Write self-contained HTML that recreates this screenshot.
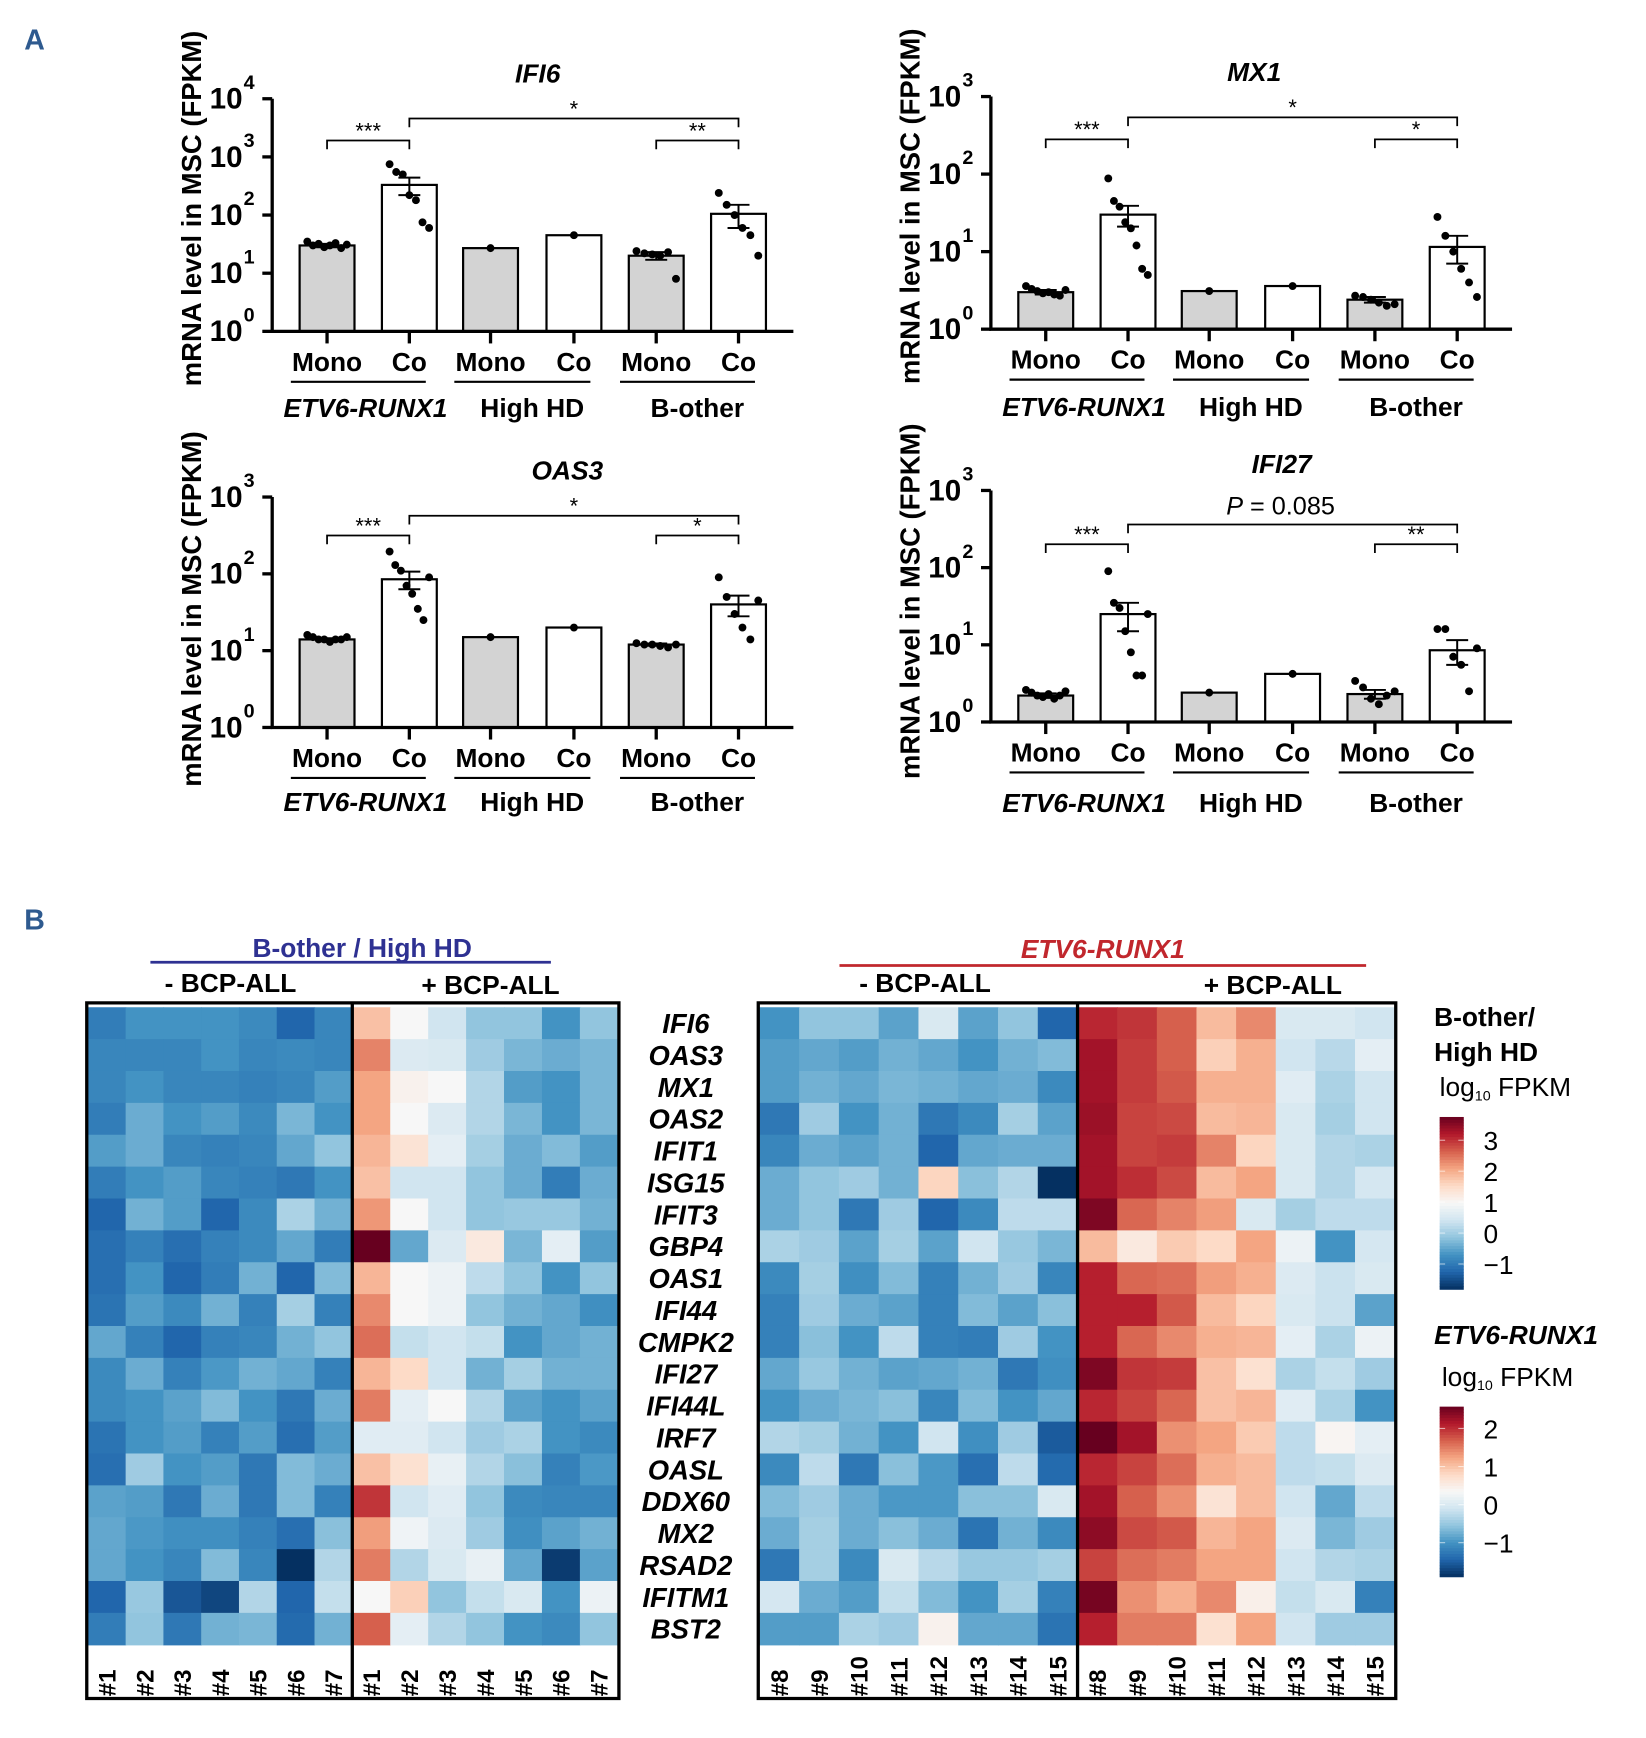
<!DOCTYPE html>
<html><head><meta charset="utf-8"><style>
html,body{margin:0;padding:0;background:#fff;}
svg{display:block;font-family:"Liberation Sans",Arial,sans-serif;}
</style></head><body>
<svg id="fig" width="1646" height="1738" viewBox="0 0 1500 1584" xmlns="http://www.w3.org/2000/svg">
<text x="22" y="45" font-size="26" font-weight="bold" fill="#2e5a8f">A</text>
<text x="22" y="847" font-size="26" font-weight="bold" fill="#2e5a8f">B</text>
<g id="charts"></g>
<g id="heat"></g>
</svg>
<script>
// ---------- Panel A data ----------
const barCats=["Mono","Co","Mono","Co","Mono","Co"];
const groupNames=["ETV6-RUNX1","High HD","B-other"];
const ifi6Means=[30,330,27,45,20,105];
const ifi6Sem=[2,110,0,0,3,45];
const ifi6Dots=[[35,30,32,28,30,33,27,31],[750,550,500,220,180,75,60],[27],[45],[24,22,21,20,23,8],[240,150,100,60,45,20]];
const mx1Means=[3,30,3.1,3.6,2.4,11.5];
const mx1Sem=[0.2,9,0,0,0.2,4.5];
const mx1Dots=[[3.6,3.3,3.1,2.9,3,2.8,2.7,3.2],[88,45,38,24,20,12,6,5],[3.1],[3.6],[2.7,2.6,2.4,2.2,2,2.1],[28,16,10,6,4,2.6]];
const oas3Means=[14,85,15,20,12,40];
const oas3Sem=[0.5,22,0,0,0.4,12];
const oas3Dots=[[16,15,14,14,13,14,14,15],[195,130,110,70,55,35,25,90],[15],[20],[12.5,12,12,11.5,11,12],[90,50,30,20,14,45]];
const ifi27Means=[2.2,25,2.4,4.2,2.3,8.5];
const ifi27Sem=[0.15,10,0,0,0.3,3];
const ifi27Dots=[[2.6,2.4,2.2,2.1,2.3,2.0,2.2,2.5],[90,35,30,15,8,4,4,25],[2.4],[4.2],[3.4,2.8,2.0,1.7,2.2,2.5],[16,16,7,5.5,2.5,9]];

const SVGNS="http://www.w3.org/2000/svg";
function mk(parent,tag,attrs){const e=document.createElementNS(SVGNS,tag);for(const k in attrs)e.setAttribute(k,attrs[k]);parent.appendChild(e);return e;}

function drawChart(L,title,means,sems,dots,brackets,extra){
  const g=mk(document.getElementById('charts'),'g',{});
  
  
  const yScale=v=>L.yBot-(Math.log10(v)/L.dec)*(L.yBot-L.yTop);
  const offs=[50,125,199,275,350,425];
  const xs=offs.map(o=>L.x0+o);
  means.forEach((m,i)=>{
    const y=yScale(m);
    const r=mk(g,'rect',{x:xs[i]-25,y:y,width:50,height:L.yBot-y,fill:i%2==0?'#d3d3d3':'#fff',stroke:'#000','stroke-width':2});
    
    
    if(sems[i]>0){
      const yh=yScale(m+sems[i]),yl=yScale(Math.max(m-sems[i],0.01));
      const e=mk(g,'path',{d:`M${xs[i]},${yh}V${yl}M${xs[i]-10},${yh}H${xs[i]+10}M${xs[i]-10},${yl}H${xs[i]+10}`,stroke:'#000','stroke-width':1.8,fill:'none'});
      
      
    }
  });
  dots.forEach((arr,i)=>{
    const n=arr.length;
    arr.forEach((v,j)=>{
      const dx=n>1?(j-(n-1)/2)*(36/(n-1)):0;
      const c=mk(g,'circle',{cx:xs[i]+dx,cy:yScale(v),r:3.6,fill:'#000'});
      
      
    });
  });
  const ax=mk(g,'path',{d:`M${L.x0},${L.yTop}V${L.yBot}H${L.x0+475}`,stroke:'#000','stroke-width':3,fill:'none'});
  
  
  for(let d=0;d<=L.dec;d++){
    const y=yScale(Math.pow(10,d));
    mk(g,'line',{x1:L.x0-9,x2:L.x0,y1:y,y2:y,stroke:'#000','stroke-width':3});
    const t=mk(g,'text',{x:L.x0-27,y:y+9,'font-size':27,'font-weight':'bold','text-anchor':'end'});
    
    
    t.textContent='10';
    const s=mk(g,'text',{x:L.x0-26,y:y-9,'font-size':18,'font-weight':'bold'});
    
    
    s.textContent=String(d);
  }
  xs.forEach((x,i)=>{
    mk(g,'line',{x1:x,x2:x,y1:L.yBot,y2:L.yBot+11,stroke:'#000','stroke-width':3});
    const t=mk(g,'text',{x:x,y:L.yBot+36,'font-size':24,'font-weight':'bold','text-anchor':'middle'});
    
    
    t.textContent=barCats[i];
  });
  for(let k=0;k<3;k++){
    const a=xs[2*k]-33,b=xs[2*k+1]+15;
    mk(g,'line',{x1:a,x2:b,y1:L.yBot+46,y2:L.yBot+46,stroke:'#000','stroke-width':2});
    const t=mk(g,'text',{x:k==0?xs[0]+35:(xs[2*k]+xs[2*k+1])/2,y:L.yBot+L.gy,'font-size':24,'font-weight':'bold','text-anchor':'middle','font-style':k==0?'italic':'normal'});
    
    
    t.textContent=groupNames[k];
  }
  const tt=mk(g,'text',{x:L.tx,y:L.ty,'font-size':24,'font-weight':'bold','font-style':'italic','text-anchor':'middle'});
  
  
  tt.textContent=title;
  const yl=mk(g,'text',{x:0,y:0,'font-size':25,'font-weight':'bold','text-anchor':'middle',transform:`translate(${L.x0-65},${L.ylc}) rotate(-90)`});
  
  
  yl.textContent='mRNA level in MSC (FPKM)';
  brackets.forEach(b=>{
    const x1=xs[b[0]],x2=xs[b[1]],y=b[2];
    const p=mk(g,'path',{d:`M${x1},${y+8}V${y}H${x2}V${y+8}`,stroke:'#000','stroke-width':1.6,fill:'none'});
    
    
    if(b[3]){
      const t=mk(g,'text',{x:(x1+x2)/2,y:y-2,'font-size':20,'text-anchor':'middle'});
      
      
      t.textContent=b[3];
    }
  });
  if(extra){
    const t=mk(g,'text',{x:extra.x,y:extra.y,'font-size':23,'text-anchor':'middle'});
    
    
    t.innerHTML='<tspan font-style="italic">P</tspan> = 0.085';
  }
}
drawChart({x0:248,yTop:90,yBot:302,dec:4,gy:78,tx:490,ty:75,ylc:190},'IFI6',ifi6Means,ifi6Sem,ifi6Dots,[[0,1,128,'***'],[1,5,108,'*'],[4,5,128,'**']]);
drawChart({x0:903,yTop:88,yBot:300,dec:3,gy:79,tx:1143,ty:74,ylc:188},'MX1',mx1Means,mx1Sem,mx1Dots,[[0,1,127,'***'],[1,5,107,'*'],[4,5,127,'*']]);
drawChart({x0:248,yTop:453,yBot:663,dec:3,gy:76,tx:517,ty:437,ylc:555},'OAS3',oas3Means,oas3Sem,oas3Dots,[[0,1,488,'***'],[1,5,470,'*'],[4,5,488,'*']]);
drawChart({x0:903,yTop:447,yBot:658,dec:3,gy:82,tx:1168,ty:431,ylc:548},'IFI27',ifi27Means,ifi27Sem,ifi27Dots,[[0,1,496,'***'],[1,5,478,''],[4,5,496,'**']],{x:1167,y:469});

// ---------- Panel B data ----------
const genes=["IFI6","OAS3","MX1","OAS2","IFIT1","ISG15","IFIT3","GBP4","OAS1","IFI44","CMPK2","IFI27","IFI44L","IRF7","OASL","DDX60","MX2","RSAD2","IFITM1","BST2"];
const leftCols=["#1","#2","#3","#4","#5","#6","#7","#1","#2","#3","#4","#5","#6","#7"];
const rightCols=["#8","#9","#10","#11","#12","#13","#14","#15","#8","#9","#10","#11","#12","#13","#14","#15"];
const leftVals=[
[-3.5,-3,-3,-3,-3.2,-4,-3.3,1.5,0,-1,-2,-2,-3,-2],
[-3.3,-3.3,-3.3,-3,-3.3,-3.2,-3.3,2.5,-0.7,-0.8,-1.8,-2.3,-2.5,-2.3],
[-3.3,-3,-3.3,-3.3,-3.4,-3.3,-2.8,2,0.2,0,-1.5,-2.8,-3,-2.3],
[-3.5,-2.5,-3,-2.8,-3.2,-2.3,-3,2,0,-0.7,-1.5,-2.3,-3,-2.3],
[-2.8,-2.5,-3.3,-3.4,-3.3,-2.6,-2,1.7,0.7,-0.5,-1.7,-2.5,-2.2,-2.8],
[-3.5,-3,-2.8,-3.3,-3.4,-3.6,-3,1.5,-1,-1,-2,-2.5,-3.5,-2.5],
[-4,-2.4,-2.8,-4,-3.2,-1.6,-2.4,2.2,0,-1,-2,-1.9,-1.9,-2.4],
[-3.8,-3.4,-3.8,-3.4,-3.2,-2.6,-3.5,5,-2.6,-0.7,0.5,-2.3,-0.5,-2.8],
[-3.8,-3,-4,-3.5,-2.4,-4,-2.2,1.7,0,-0.3,-1.3,-2,-3,-2],
[-3.7,-2.8,-3.2,-2.4,-3.4,-1.7,-3.4,2.4,0,-0.3,-2,-2.4,-2.6,-3.1],
[-2.6,-3.4,-4,-3.4,-3.3,-2.4,-2,2.8,-1.2,-1,-1.2,-3,-2.6,-2.4],
[-3.2,-2.5,-3.4,-2.9,-2.4,-2.6,-3.4,1.7,1,-1,-2.4,-1.7,-2.4,-2.4],
[-3.2,-3,-2.7,-2.2,-3,-3.6,-2.5,2.6,-0.5,0,-1.5,-2.7,-3,-2.7],
[-3.7,-3,-2.8,-3.4,-2.8,-3.8,-2.8,-0.6,-0.6,-1,-1.8,-1.6,-3,-3.2],
[-3.8,-1.8,-3,-2.8,-3.6,-2.2,-2.5,1.5,0.8,-0.4,-1.5,-2.1,-3.4,-2.9],
[-2.7,-2.8,-3.6,-2.5,-3.6,-2.2,-3.4,3.6,-1,-0.6,-2,-3.2,-3.3,-3.3],
[-2.6,-2.9,-3.1,-3.1,-3.4,-3.8,-2.1,2.1,-0.2,-0.7,-1.8,-3.1,-2.7,-2.4],
[-2.6,-3,-3.3,-2.2,-3.3,-5,-1.5,2.6,-1.5,-0.8,-0.4,-2.6,-4.8,-2.7],
[-4,-1.9,-4.3,-4.6,-1.5,-4,-1.2,0,1.2,-2,-1.2,-0.8,-3,-0.3],
[-3.5,-2,-3.6,-2.4,-2.3,-3.9,-2.4,3,-0.5,-1.5,-2,-3,-3.2,-2]];
const rightVals=[
[-3,-2,-2,-2.7,-0.8,-2.7,-2,-4,3.8,3.6,3,1.6,2.4,-0.8,-0.8,-1],
[-2.8,-2.6,-2.8,-2.4,-2.6,-3,-2.4,-2.2,4.2,3.5,3,1.2,1.8,-1,-1.4,-0.5],
[-2.8,-2.4,-2.6,-2.3,-2.4,-2.6,-2.5,-3.2,4.2,3.5,3.1,1.8,1.8,-0.6,-1.6,-1],
[-3.6,-1.8,-3,-2.4,-3.6,-3.2,-1.7,-2.7,4.3,3.4,3.3,1.6,1.7,-0.8,-1.7,-1],
[-3.3,-2.5,-2.7,-2.4,-4,-2.6,-2.5,-2.5,4.2,3.4,3.5,2.5,1.1,-0.8,-1.5,-1.6],
[-2.5,-2,-1.8,-2.4,1.1,-2.1,-1.5,-5,4.2,3.7,3.3,1.6,2,-0.8,-1.5,-0.9],
[-2.5,-2,-3.6,-1.8,-4,-3.2,-1.3,-1.3,4.7,2.9,2.5,2.1,-0.8,-1.7,-1.3,-1.3],
[-1.6,-1.8,-2.7,-1.7,-2.7,-1,-1.9,-2.3,1.6,0.5,1.3,1,2,-0.3,-3,-0.9],
[-3.2,-1.7,-3.1,-2.2,-3.4,-2.4,-1.8,-3.3,3.9,2.9,2.8,2.1,1.8,-0.7,-1.1,-0.8],
[-3.4,-1.8,-2.5,-2.7,-3.4,-2.2,-2.7,-2.1,3.9,3.9,3.1,1.6,1.1,-0.8,-1.1,-2.7],
[-3.4,-2.1,-3,-1.3,-3.4,-3.5,-1.8,-3,3.9,2.9,2.4,1.8,1.7,-0.5,-1.6,-0.3],
[-2.6,-1.9,-2.4,-2.7,-2.6,-2.4,-3.6,-3.1,4.7,3.6,3.5,1.5,0.8,-1.6,-1.2,-1.8],
[-3,-2.5,-2.3,-2.1,-3.3,-2.2,-3,-2.6,3.8,3.4,2.9,1.5,1.7,-0.6,-1.6,-3],
[-1.5,-1.7,-2.4,-3,-1,-3.1,-1.8,-4.2,5,4.2,2.3,2,1.3,-1.3,0.1,-0.5],
[-3.2,-1.3,-3.6,-2.1,-2.9,-3.8,-1.3,-3.9,3.8,3.4,2.8,1.8,1.6,-1.3,-1.2,-0.7],
[-2.2,-1.8,-2.5,-2.9,-2.9,-2.1,-2.1,-0.8,4.2,3,2.3,0.7,1.6,-1,-2.6,-1.3],
[-2.5,-1.7,-2.5,-2.1,-2.5,-3.7,-2.4,-3.2,4.5,3.3,3.1,1.7,2,-0.7,-2.3,-1.8],
[-3.6,-1.7,-3.2,-0.8,-1.4,-1.9,-1.9,-1.7,3.4,2.8,2.6,2,2,-1,-1.5,-1.6],
[-0.9,-2.5,-2.8,-1.2,-2.2,-3,-1.7,-3.4,4.8,2.3,1.8,2.4,0.3,-1.2,-0.8,-3.4],
[-2.8,-2.8,-1.6,-1.8,0.2,-2.6,-2.6,-3.7,3.9,2.6,2.6,0.8,2,-1,-1.8,-1.8]];
const cbLeftTicks=[3,2,1,0,-1];
const cbRightTicks=[2,1,0,-1];

const stops=["#053061","#2166ac","#4393c3","#92c5de","#d1e5f0","#f7f7f7","#fddbc7","#f4a582","#d6604d","#b2182b","#67001f"];
function hex(h){return [1,3,5].map(i=>parseInt(h.substr(i,2),16));}
function cmap(v){v=Math.max(-5,Math.min(5,v));const t=v+5,i=Math.min(9,Math.floor(t)),f=t-i;const a=hex(stops[i]),b=hex(stops[i+1]);return 'rgb('+a.map((c,k)=>Math.round(c+(b[k]-c)*f)).join(',')+')';}

const H=document.getElementById('heat');
const rowTop=918,rowH=29.05;
function drawHeat(vals,cols,x0,x1,xDiv,name){
  const g=mk(H,'g',{});
  
  
  const n=cols.length,half=n/2;
  const cw1=(xDiv-x0)/half,cw2=(x1-xDiv)/half;
  const cx=j=>j<half?x0+j*cw1:xDiv+(j-half)*cw2;
  const cw=j=>j<half?cw1:cw2;
  vals.forEach((row,i)=>row.forEach((v,j)=>{
    const r=mk(g,'rect',{x:cx(j),y:rowTop+i*rowH,width:cw(j)+0.6,height:rowH+0.6,fill:cmap(v)});
    
    
  }));
  cols.forEach((c,j)=>{
    const x=cx(j)+cw(j)/2+8;
    const t=mk(g,'text',{x:0,y:0,'font-size':22,'font-weight':'bold',transform:`translate(${x},1546) rotate(-90)`});
    
    
    t.textContent=c;
  });
  const b=mk(g,'path',{d:`M${x0-1},914H${x1+1}V1548H${x0-1}ZM${xDiv},914V1548`,stroke:'#000','stroke-width':3,fill:'none'});
  
  
}
drawHeat(leftVals,leftCols,80,563,321,'heatmap-b-other-high-hd');
drawHeat(rightVals,rightCols,692,1271,982,'heatmap-etv6-runx1');
genes.forEach((gname,i)=>{
  const t=mk(H,'text',{x:625,y:rowTop+i*rowH+rowH/2+9,'font-size':25,'font-weight':'bold','font-style':'italic','text-anchor':'middle'});
  
  
  t.textContent=gname;
});
function colorbar(y0,y1,vmin,vmax,ticks,posFn,name){
  const g=mk(H,'g',{});
  
  
  const N=60,h=(y1-y0)/N;
  for(let k=0;k<N;k++){const v=vmax-(k+0.5)/N*(vmax-vmin);mk(g,'rect',{x:1312,y:y0+k*h,width:22,height:h+0.5,fill:cmap(v)});}
  ticks.forEach(tk=>{
    const y=posFn(tk);
    mk(g,'line',{x1:1312,x2:1317,y1:y,y2:y,stroke:'#fff','stroke-opacity':0.6});
    mk(g,'line',{x1:1329,x2:1334,y1:y,y2:y,stroke:'#fff','stroke-opacity':0.6});
    const t=mk(g,'text',{x:1352,y:y+9,'font-size':24});
    
    
    t.textContent=tk<0?'\u2212'+(-tk):String(tk);
  });
}
colorbar(1018,1175,-5,5,cbLeftTicks,tk=>1152-(tk+1)*28.2,'colorbar-b-other');
colorbar(1282,1437,-5,5,cbRightTicks,tk=>1406-(tk+1)*34.7,'colorbar-etv6-runx1');
</script>
<div style="position:absolute;left:0;top:0;width:1646px;height:1738px;pointer-events:none">
<svg width="1646" height="1738" viewBox="0 0 1500 1584" style="font-family:'Liberation Sans',Arial,sans-serif">
<text x="330" y="872" font-size="24" font-weight="bold" fill="#2e3192" text-anchor="middle">B-other / High HD</text>
<line x1="137" x2="502" y1="877" y2="877" stroke="#2e3192" stroke-width="2.5"/>
<text x="1005" y="873" font-size="24" font-weight="bold" font-style="italic" fill="#c1272d" text-anchor="middle">ETV6-RUNX1</text>
<line x1="765" x2="1245" y1="880" y2="880" stroke="#c1272d" stroke-width="2.5"/>
<text x="210" y="904" font-size="24" font-weight="bold" text-anchor="middle">- BCP-ALL</text>
<text x="447" y="906" font-size="24" font-weight="bold" text-anchor="middle">+ BCP-ALL</text>
<text x="843" y="904" font-size="24" font-weight="bold" text-anchor="middle">- BCP-ALL</text>
<text x="1160" y="906" font-size="24" font-weight="bold" text-anchor="middle">+ BCP-ALL</text>
<text x="1307" y="935" font-size="24" font-weight="bold">B-other/</text>
<text x="1307" y="967" font-size="24" font-weight="bold">High HD</text>
<text x="1312" y="999" font-size="24">log<tspan font-size="13" dy="4">10</tspan><tspan dy="-4"> FPKM</tspan></text>
<text x="1307" y="1225" font-size="24" font-weight="bold" font-style="italic">ETV6-RUNX1</text>
<text x="1314" y="1263" font-size="24">log<tspan font-size="13" dy="4">10</tspan><tspan dy="-4"> FPKM</tspan></text>
</svg>
</div>
</body></html>
